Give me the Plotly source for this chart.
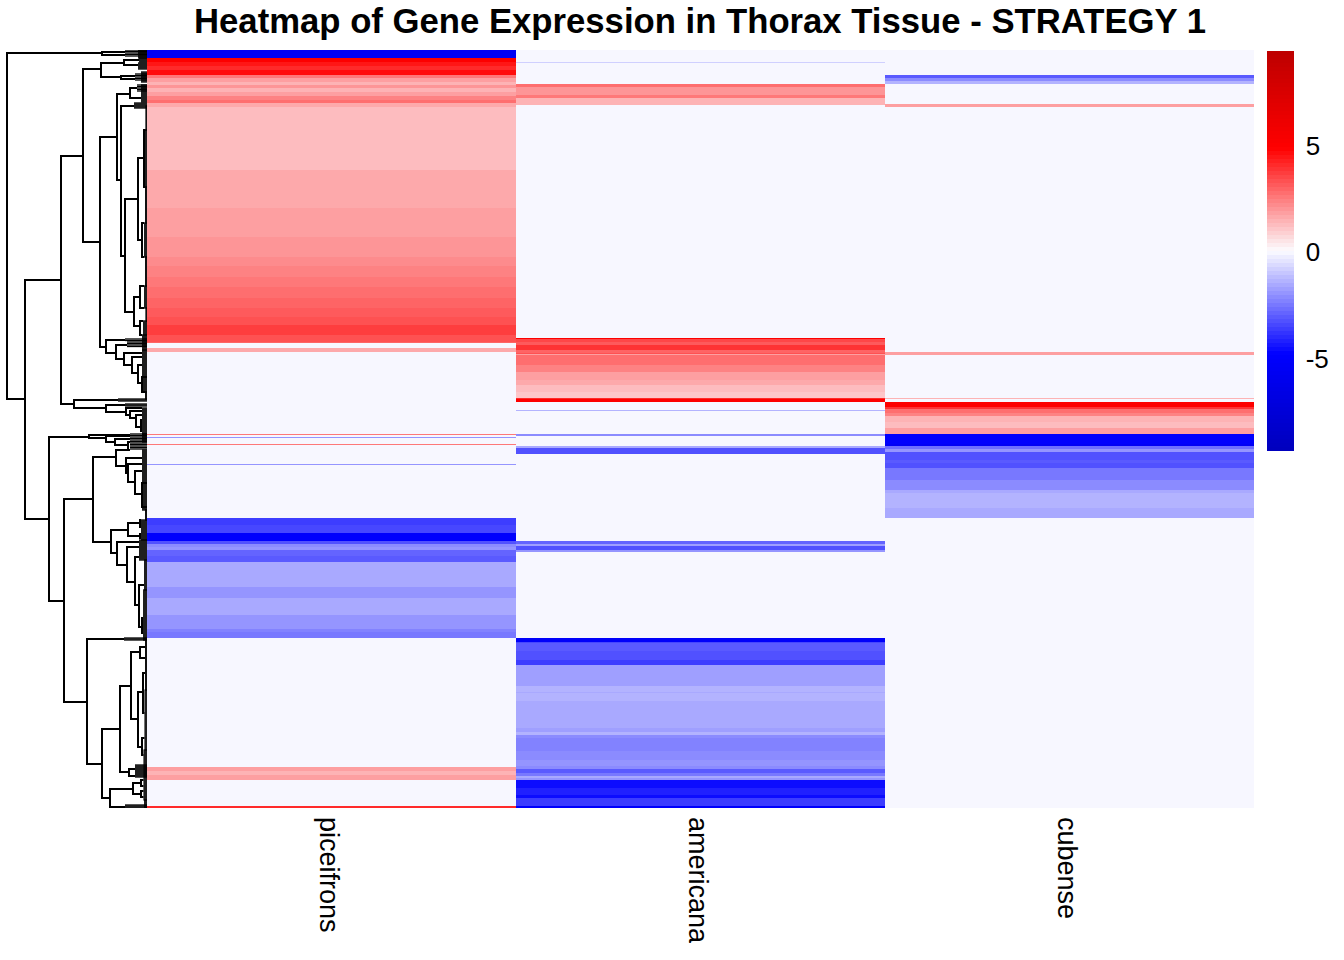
import numpy as np
import plotly.graph_objects as go

# ---- heatmap data: rows are in dendrogram order; each band = end row (exclusive), value
species = ["piceifrons", "americana", "cubense"]
label_positions = [-0.008, 0.992, 1.992]
total_rows = 758

piceifrons_ends = [8,12,16,20,25,28,32,35,38,42,46,50,53,57,120,158,187,207,216,227,237,248,258,267,275,285,292,293,298,302,384,385,387,388,394,395,414,415,468,475,483,491,494,497,500,506,512,537,548,565,575,579,582,588,717,721,725,730,756,758]
piceifrons_vals = [-5.5,5.0,4.4,4.0,4.6,2.6,1.8,1.4,2.0,1.5,1.8,2.3,2.8,1.6,1.3,1.55,1.8,2.0,2.2,2.4,2.6,2.75,2.95,3.15,3.4,3.7,3.3,3.0,0,1.6,0,2.5,0,-2.0,0,2.5,0,-2.0,0,-3.6,-3.4,-5.0,-3.2,-2.2,-1.9,-2.8,-3.0,-1.5,-1.9,-1.6,-2.0,-1.9,-2.3,-2.5,0,1.9,1.5,1.9,0,4.0]

americana_ends = [12,13,34,37,45,48,55,288,289,292,295,300,303,304,305,315,322,330,335,342,348,349,352,360,361,384,386,396,398,404,491,494,496,500,502,588,592,593,601,610,615,636,642,643,651,678,682,685,688,701,710,716,719,723,726,728,730,738,745,748,756,758]
americana_vals = [0,-0.8,0,2.7,2.0,2.5,1.4,0,5.0,3.6,3.2,3.9,3.0,3.4,1.9,2.7,2.3,1.9,1.6,1.2,1.1,4.0,5.0,0,-1.3,0,-2.2,0,-1.6,-3.2,0,-2.8,-1.8,-3.2,-2.0,0,-5.2,-3.5,-3.0,-3.2,-3.6,-1.8,-1.3,-1.6,-1.3,-1.55,-1.8,-1.4,-2.2,-2.3,-2.1,-1.9,-2.2,-3.0,-2.5,-1.5,-1.9,-4.5,-4.2,-4.5,-3.6,-5.0]

cubense_ends = [25,28,31,34,54,57,302,305,348,349,352,357,359,363,366,372,378,384,394,396,399,402,410,413,418,430,440,443,458,468,758]
cubense_vals = [0,-3.0,-2.2,-1.4,0,1.9,0,1.8,0,1.4,0,5.0,3.8,2.8,2.3,1.5,1.3,1.9,-5.0,-5.5,-2.7,-2.0,-3.3,-3.0,-3.3,-2.5,-2.1,-1.5,-1.35,-1.6,0]

colorbar_ticks = [-5, 0, 5]
z_low, z_high = -9.34, 9.43

# ---- dendrogram data: merge height, first and last row reached by each merge
merge_height = [140,45,122,86,64,46,23,26,47,30,17,26,22,9,3,5,13,7,7,41,31,23,15,9,5,73,41,21,17,11,6,98,58,41,32,19,83,54,31,21,19,12,5,36,19,7,7,30,20,12,8,5,60,45,27,16,7,9,4,5,18,37,14,6,6]
merge_top    = [3,2,230,106,19,13,10,26,87,44,38,56,149,108,80,173,247,236,271,290,295,303,307,315,327,350,355,358,361,365,370,387,385,386,389,392,449,407,400,408,414,421,433,480,473,470,484,492,497,507,535,568,589,679,636,602,597,642,623,688,719,739,733,730,741]
merge_bottom = [349,5,469,354,192,27,15,29,297,130,48,206,262,190,137,207,276,258,285,303,309,315,323,333,342,358,362,365,368,377,381,551,388,392,395,400,652,492,416,423,432,444,457,503,486,477,488,515,532,555,577,583,714,748,722,669,608,697,663,705,726,757,744,736,747]

# dense leaf fringes: first row, last row, height, spacing of the leaves
fringe_top    = [0,0,8,13,22,24,35,35,53,56,80,137,173,207,236,258,271,285,289,292,300,342,349,354,358,384,384,400,460,470,490,510,540,590,588,640,700,715,750,755]
fringe_bottom = [7,8,12,19,32,30,42,52,58,80,137,173,207,236,258,271,285,300,291,297,342,349,351,356,384,400,392,460,470,490,510,540,590,640,590,700,750,727,758,758]
fringe_height = [22,9,8,9,6,12,10,6,13,1.5,3,2,3,2,3,1.5,4,5,22,20,5,2,29,22,5,17,5,5,2,6,8,3,4,2,23,2.5,3.5,12,3,22]
fringe_step   = [1.5,1,1,1,1,1.5,1.5,1,1,1,1,1,1,1,1,1,1,1,1.5,1.5,1,1,1,1,1,1.5,1,1,1,1,1,1,1,1,1,1,1,1,1,1]


def expand(ends, vals):
    ends = np.asarray(ends)
    lengths = np.diff(np.concatenate([[0], ends]))
    return np.repeat(vals, lengths)


z = np.column_stack([expand(piceifrons_ends, piceifrons_vals),
                     expand(americana_ends, americana_vals),
                     expand(cubense_ends, cubense_vals)])

# 100-bin blue/white/red palette
ramp_pos = [0, 0.24, 0.5, 0.76, 1]
ramp_rgb = np.array([[0, 0, 190], [0, 0, 255], [252, 252, 255], [255, 0, 0], [190, 0, 0]], float)
n_bins = 100
colorscale = []
for k in range(n_bins):
    t = k / (n_bins - 1)
    c = [np.interp(t, ramp_pos, ramp_rgb[:, j]) for j in range(3)]
    col = "rgb(%d,%d,%d)" % tuple(np.round(c))
    colorscale.append([k / n_bins, col])
    colorscale.append([(k + 1) / n_bins, col])

fig = go.Figure()
fig.add_trace(go.Heatmap(
    z=z, x=[0, 1, 2], y0=0.5, dy=1, zmin=z_low, zmax=z_high, colorscale=colorscale,
    xaxis="x", yaxis="y", hoverinfo="skip", zsmooth=False,
    colorbar=dict(thickness=27, thicknessmode="pixels", len=400, lenmode="pixels",
                  x=1267 / 1344, xanchor="left", xpad=0, y=1 - 51 / 960, yanchor="top", ypad=0,
                  outlinewidth=0, ticks="outside", ticklen=7, tickcolor="rgba(0,0,0,0)",
                  tickvals=colorbar_ticks, ticktext=[str(t) for t in colorbar_ticks],
                  tickfont=dict(family="Liberation Sans", size=26, color="black")),
))

# dendrogram segments
lx, ly = [], []
all_h = list(merge_height) + list(fringe_height)
all_t = list(merge_top) + list(fringe_top)
all_b = list(merge_bottom) + list(fringe_bottom)


def child_height(row, h):
    best = 0.0
    for hh, t, b in zip(all_h, all_t, all_b):
        if hh < h and t <= row <= b and hh > best:
            best = hh
    return best


for h, t, b in zip(merge_height, merge_top, merge_bottom):
    lx += [child_height(t, h), h, h, child_height(b, h), None]
    ly += [t, t, b, b, None]

fig.add_trace(go.Scatter(x=lx, y=ly, mode="lines", line=dict(color="black", width=2),
                         hoverinfo="skip", showlegend=False, xaxis="x2", yaxis="y2"))
fx, fy = [], []
for t, b, h, s in zip(fringe_top, fringe_bottom, fringe_height, fringe_step):
    for r in np.arange(t, b + 0.01, s):
        fx += [0, h, None]
        fy += [float(r), float(r), None]
fig.add_trace(go.Scatter(x=fx, y=fy, mode="lines", line=dict(color="black", width=1.3),
                         hoverinfo="skip", showlegend=False, xaxis="x2", yaxis="y2"))

fig.update_layout(
    width=1344, height=960, margin=dict(l=0, r=0, t=0, b=0), autosize=False,
    paper_bgcolor="white", plot_bgcolor="white", showlegend=False,
    font=dict(family="Liberation Sans", color="black"),
    title=dict(text="<b>Heatmap of Gene Expression in Thorax Tissue - STRATEGY 1</b>",
               x=700 / 1344, xanchor="center", y=1 - 21 / 960, yanchor="middle",
               font=dict(family="Liberation Sans", size=34.7, color="black")),
    xaxis=dict(domain=[147 / 1344, 1254 / 1344], range=[-0.5, 2.5], tickangle=90, ticks="",
               tickvals=label_positions, ticktext=species, ticklabelstandoff=8,
               showgrid=False, zeroline=False, showline=False, anchor="y",
               tickfont=dict(family="Liberation Sans", size=27, color="black")),
    yaxis=dict(domain=[1 - 808 / 960, 1 - 50 / 960], range=[total_rows, 0], showticklabels=False,
               ticks="", showgrid=False, zeroline=False, anchor="x"),
    xaxis2=dict(domain=[0, 147 / 1344], range=[147, 0], visible=False, anchor="y2"),
    yaxis2=dict(domain=[1 - 808 / 960, 1 - 50 / 960], range=[total_rows, 0], visible=False, anchor="x2"),
)
fig.write_html("out.html", config={"displayModeBar": False},
               post_script="document.body.style.margin='0';")
